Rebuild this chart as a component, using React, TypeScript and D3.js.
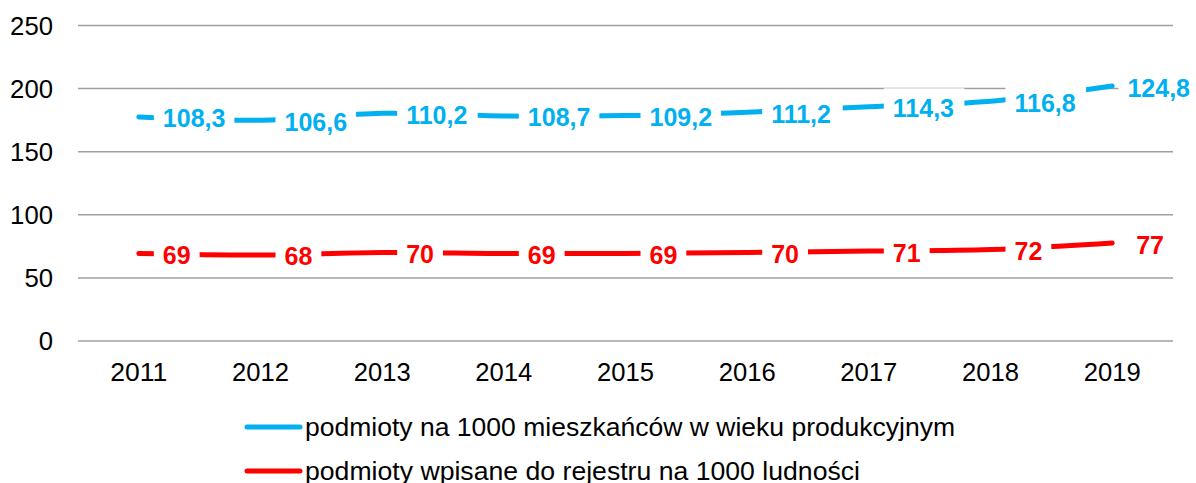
import React from 'react';
import * as d3 from 'd3';

const width = 1196;
const height = 483;
const margin = {top: 25.5, right: 23, bottom: 142, left: 78};
const blue = '#00b0f0';
const red = '#ff0000';
const font = 'Liberation Sans, Arial, sans-serif';

const years = ['2011', '2012', '2013', '2014', '2015', '2016', '2017', '2018', '2019'];
// plotted positions of the blue line (as drawn in the picture)
const blueValues = [177.5, 175, 180.5, 178.3, 178.6, 181.3, 185.6, 190, 202];
const blueLabels = ['108,3', '106,6', '110,2', '108,7', '109,2', '111,2', '114,3', '116,8', '124,8'];
const redValues = [69.4, 68.2, 70.2, 69.4, 69.4, 70.2, 71.3, 72.5, 77.6];
const redLabels = ['69', '68', '70', '69', '69', '70', '71', '72', '77'];
const yTicks = [0, 50, 100, 150, 200, 250];
const legendNames = [
  'podmioty na 1000 mieszkańców w wieku produkcyjnym',
  'podmioty wpisane do rejestru na 1000 ludności',
];
const legendWidths = [650, 555];

const x = d3.scaleBand().domain(years).range([margin.left, width - margin.right]);
const y = d3.scaleLinear().domain([0, 250]).range([height - margin.bottom, margin.top]);
const cx = (d: string) => (x(d) as number) + x.bandwidth() / 2;

const labelSize = 25;
const textWidth = (s: string) =>
  s.split('').reduce((w, c) => w + (c === ',' ? 0.278 : 0.556), 0) * labelSize;

const line = d3.line<number>()
  .x((_, i) => cx(years[i]))
  .y(d => y(d))
  .curve(d3.curveCatmullRom.alpha(0.5));

function Labels({values, labels, color}: {values: number[]; labels: string[]; color: string}) {
  return (
    <g>
      {values.map((v, i) => {
        const w = textWidth(labels[i]);
        let tx = cx(years[i]) + 24;
        if (tx + w > 1190) tx = 1190 - w;
        const ty = y(v) + 1.5;
        return (
          <g key={i}>
            <rect x={tx - 9} y={ty - 20} width={w + 18} height={40} fill='#fff' />
            <text x={tx} y={ty} dominantBaseline='central' fontFamily={font}
              fontWeight='bold' fontSize={labelSize} fill={color}>{labels[i]}</text>
          </g>
        );
      })}
    </g>
  );
}

export default function App() {
  return (
    <svg width={width} height={height} style={{position: 'absolute', left: 0, top: 0}}>
      <rect width={width} height={height} fill='#fff' />
      {yTicks.map(t => (
        <g key={t}>
          <line x1={margin.left} x2={width - margin.right} y1={y(t)} y2={y(t)}
            stroke='#a0a0a0' strokeWidth={1.5} />
          <text x={53} y={y(t)} textAnchor='end' dominantBaseline='central'
            fontFamily={font} fontSize={25} fill='#000'
            textLength={String(t).length * 14.3} lengthAdjust='spacingAndGlyphs'>{t}</text>
        </g>
      ))}
      {years.map(d => (
        <text key={d} x={cx(d)} y={372} textAnchor='middle' dominantBaseline='central'
          fontFamily={font} fontSize={25} fill='#000'
          textLength={57} lengthAdjust='spacingAndGlyphs'>{d}</text>
      ))}
      <path d={line(blueValues) as string} fill='none' stroke={blue} strokeWidth={5} strokeLinecap='round' />
      <path d={line(redValues) as string} fill='none' stroke={red} strokeWidth={5} strokeLinecap='round' />
      <Labels values={blueValues} labels={blueLabels} color={blue} />
      <Labels values={redValues} labels={redLabels} color={red} />
      {legendNames.map((name, i) => (
        <g key={name} transform={`translate(0, ${427 + i * 44})`}>
          <line x1={247} x2={300} y1={0} y2={0} stroke={i === 0 ? blue : red}
            strokeWidth={5} strokeLinecap='round' />
          <text x={305} y={0} dominantBaseline='central' fontFamily={font}
            fontSize={25} fill='#000' textLength={legendWidths[i]}
            lengthAdjust='spacingAndGlyphs'>{name}</text>
        </g>
      ))}
    </svg>
  );
}
